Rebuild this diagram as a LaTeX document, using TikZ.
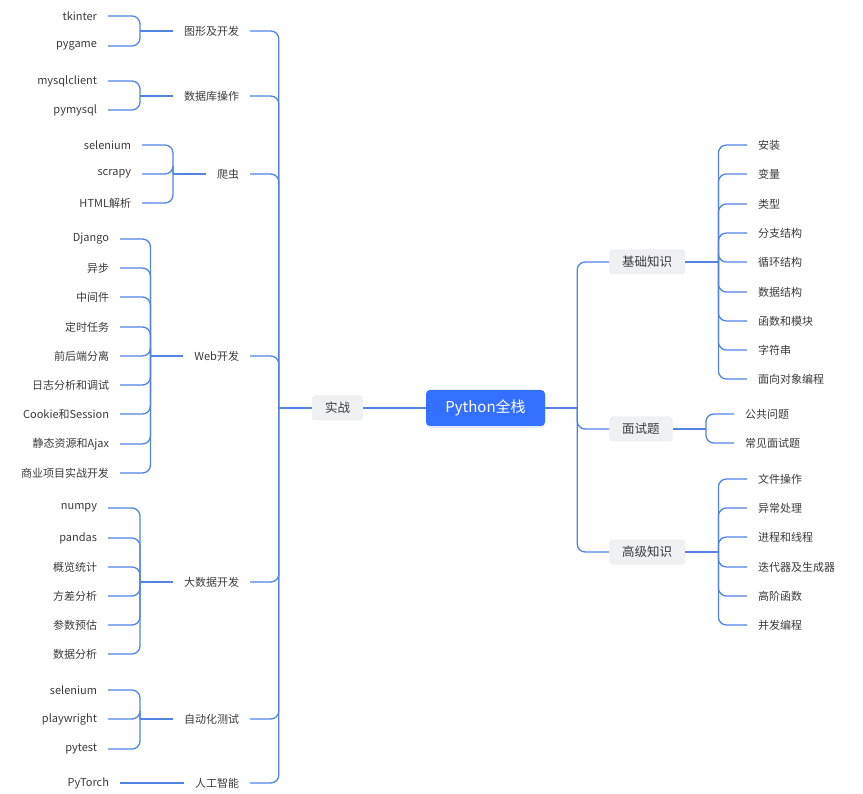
\documentclass[tikz,border=0pt]{standalone}
\usepackage{fontspec}
\setmainfont{Noto Sans CJK SC}
\usepackage{tikz}
\usetikzlibrary{positioning,shadows}
\usepackage{xcolor}
\definecolor{linea}{RGB}{82,132,228}
\definecolor{azulraiz}{RGB}{51,112,255}
\definecolor{griscaja}{RGB}{239,240,242}
\definecolor{texto}{RGB}{58,58,58}

\begin{document}
\begin{tikzpicture}[x=1pt, y=-1pt,
  every node/.style={text=texto, font=\fontsize{11}{13}\selectfont},
  hoja/.style={inner sep=0pt, outer xsep=11pt},
  tema/.style={inner sep=0pt, outer xsep=11pt},
  cajabox/.style={fill=griscaja, rounded corners=3pt, inner xsep=13pt, inner ysep=0pt,
    minimum height=25pt, font=\fontsize{12.5}{14}\selectfont},
  raizbox/.style={fill=azulraiz, rounded corners=4pt, text=white, minimum width=119pt,
    minimum height=36pt, font=\fontsize{15}{17}\selectfont,
    drop shadow={shadow xshift=0pt, shadow yshift=-2pt, opacity=0.15, fill=azulraiz}},
  rama/.style={draw=linea, line width=1.3pt, rounded corners=8pt}
]
\useasboundingbox (0,0) rectangle (863,794);

% -------- Raiz --------
\node[raizbox] (root) at (485.5,408) {Python全栈};
\node[cajabox] (shizhan) at (337.5,408) {实战};

% -------- Rama izquierda: temas --------
\node[tema, anchor=east] (g1) at (250,31) {图形及开发};
\node[tema, anchor=east] (g2) at (250,96) {数据库操作};
\node[tema, anchor=east] (g3) at (250,174) {爬虫};
\node[tema, anchor=east] (g4) at (250,356) {Web开发};
\node[tema, anchor=east] (g5) at (250,582) {大数据开发};
\node[tema, anchor=east] (g6) at (250,719) {自动化测试};
\node[tema, anchor=east] (g7) at (250,783) {人工智能};

% Hojas de 图形及开发
\node[hoja, anchor=east] (tk) at (108,16) {tkinter};
\node[hoja, anchor=east] (pg) at (108,46) {pygame};

% Hojas de 数据库操作
\node[hoja, anchor=east] (mc) at (108,81) {mysqlclient};
\node[hoja, anchor=east] (pm) at (108,110) {pymysql};

% Hojas de 爬虫
\node[hoja, anchor=east] (se) at (142,145) {selenium};
\node[hoja, anchor=east] (sc) at (142,174) {scrapy};
\node[hoja, anchor=east] (ht) at (142,203) {HTML解析};

% Hojas de Web开发
\node[hoja, anchor=east] (dj) at (120,239) {Django};
\node[hoja, anchor=east] (yb) at (120,268) {异步};
\node[hoja, anchor=east] (zj) at (120,297) {中间件};
\node[hoja, anchor=east] (ds) at (120,327) {定时任务};
\node[hoja, anchor=east] (qh) at (120,356) {前后端分离};
\node[hoja, anchor=east] (rz) at (120,385) {日志分析和调试};
\node[hoja, anchor=east] (ck) at (120,414) {Cookie和Session};
\node[hoja, anchor=east] (jt) at (120,444) {静态资源和Ajax};
\node[hoja, anchor=east] (sy) at (120,473) {商业项目实战开发};

% Hojas de 大数据开发
\node[hoja, anchor=east] (np) at (108,508) {numpy};
\node[hoja, anchor=east] (pd) at (108,538) {pandas};
\node[hoja, anchor=east] (gl) at (108,567) {概览统计};
\node[hoja, anchor=east] (fc) at (108,596) {方差分析};
\node[hoja, anchor=east] (cs) at (108,625) {参数预估};
\node[hoja, anchor=east] (sj) at (108,654) {数据分析};

% Hojas de 自动化测试
\node[hoja, anchor=east] (se2) at (108,690) {selenium};
\node[hoja, anchor=east] (pw) at (108,719) {playwright};
\node[hoja, anchor=east] (pt) at (108,749) {pytest};

% Hoja de 人工智能
\node[hoja, anchor=east] (tor) at (120,783) {PyTorch};

% -------- Rama derecha: temas --------
\node[cajabox, anchor=west] (jichu) at (609,262) {基础知识};
\node[cajabox, anchor=west] (mianshi) at (609,429) {面试题};
\node[cajabox, anchor=west] (gaoji) at (609,552) {高级知识};

% Hojas de 基础知识
\node[hoja, anchor=west] (az) at (747,145) {安装};
\node[hoja, anchor=west] (bl) at (747,174) {变量};
\node[hoja, anchor=west] (lx) at (747,204) {类型};
\node[hoja, anchor=west] (fz) at (747,233) {分支结构};
\node[hoja, anchor=west] (xh) at (747,262) {循环结构};
\node[hoja, anchor=west] (sjjg) at (747,292) {数据结构};
\node[hoja, anchor=west] (hs) at (747,321) {函数和模块};
\node[hoja, anchor=west] (zfc) at (747,350) {字符串};
\node[hoja, anchor=west] (mx) at (747,379) {面向对象编程};

% Hojas de 面试题
\node[hoja, anchor=west] (gg) at (734,414) {公共问题};
\node[hoja, anchor=west] (cj) at (734,443) {常见面试题};

% Hojas de 高级知识
\node[hoja, anchor=west] (wj) at (747,479) {文件操作};
\node[hoja, anchor=west] (yc) at (747,508) {异常处理};
\node[hoja, anchor=west] (jc) at (747,537) {进程和线程};
\node[hoja, anchor=west] (dd) at (747,567) {迭代器及生成器};
\node[hoja, anchor=west] (gj) at (747,596) {高阶函数};
\node[hoja, anchor=west] (bf) at (747,625) {并发编程};

% -------- Conectores centrales --------
\draw[rama] (shizhan.east) -- (root.west);
\coordinate (lt) at ([xshift=-33pt]shizhan.west);
\coordinate (rt) at ([xshift=32pt]root.east);
\draw[rama] (shizhan.west) -- (lt);
\draw[rama] (root.east) -- (rt);

% Tronco izquierdo
\draw[rama] (lt) |- (g1.east);
\draw[rama] (lt) |- (g2.east);
\draw[rama] (lt) |- (g3.east);
\draw[rama] (lt) |- (g4.east);
\draw[rama] (lt) |- (g5.east);
\draw[rama] (lt) |- (g6.east);
\draw[rama] (lt) |- (g7.east);

% Tronco derecho
\draw[rama] (rt) |- (jichu.west);
\draw[rama] (rt) |- (mianshi.west);
\draw[rama] (rt) |- (gaoji.west);

% -------- Llaves izquierdas --------
\coordinate (j1) at ([xshift=-33pt]g1.west);
\draw[rama] (g1.west) -- (j1);
\draw[rama] (j1) |- (tk.east);
\draw[rama] (j1) |- (pg.east);

\coordinate (j2) at ([xshift=-33pt]g2.west);
\draw[rama] (g2.west) -- (j2);
\draw[rama] (j2) |- (mc.east);
\draw[rama] (j2) |- (pm.east);

\coordinate (j3) at ([xshift=-33pt]g3.west);
\draw[rama] (g3.west) -- (j3);
\draw[rama] (j3) |- (se.east);
\draw[rama] (j3) |- (sc.east);
\draw[rama] (j3) |- (ht.east);

\coordinate (j4) at ([xshift=-33pt]g4.west);
\draw[rama] (g4.west) -- (j4);
\draw[rama] (j4) |- (dj.east);
\draw[rama] (j4) |- (yb.east);
\draw[rama] (j4) |- (zj.east);
\draw[rama] (j4) |- (ds.east);
\draw[rama] (j4) |- (qh.east);
\draw[rama] (j4) |- (rz.east);
\draw[rama] (j4) |- (ck.east);
\draw[rama] (j4) |- (jt.east);
\draw[rama] (j4) |- (sy.east);

\coordinate (j5) at ([xshift=-33pt]g5.west);
\draw[rama] (g5.west) -- (j5);
\draw[rama] (j5) |- (np.east);
\draw[rama] (j5) |- (pd.east);
\draw[rama] (j5) |- (gl.east);
\draw[rama] (j5) |- (fc.east);
\draw[rama] (j5) |- (cs.east);
\draw[rama] (j5) |- (sj.east);

\coordinate (j6) at ([xshift=-33pt]g6.west);
\draw[rama] (g6.west) -- (j6);
\draw[rama] (j6) |- (se2.east);
\draw[rama] (j6) |- (pw.east);
\draw[rama] (j6) |- (pt.east);

\draw[rama] (g7.west) -- (tor.east);

% -------- Llaves derechas --------
\coordinate (k1) at ([xshift=33pt]jichu.east);
\draw[rama] (jichu.east) -- (k1);
\draw[rama] (k1) |- (az.west);
\draw[rama] (k1) |- (bl.west);
\draw[rama] (k1) |- (lx.west);
\draw[rama] (k1) |- (fz.west);
\draw[rama] (k1) |- (xh.west);
\draw[rama] (k1) |- (sjjg.west);
\draw[rama] (k1) |- (hs.west);
\draw[rama] (k1) |- (zfc.west);
\draw[rama] (k1) |- (mx.west);

\coordinate (k2) at ([xshift=33pt]mianshi.east);
\draw[rama] (mianshi.east) -- (k2);
\draw[rama] (k2) |- (gg.west);
\draw[rama] (k2) |- (cj.west);

\coordinate (k3) at ([xshift=33pt]gaoji.east);
\draw[rama] (gaoji.east) -- (k3);
\draw[rama] (k3) |- (wj.west);
\draw[rama] (k3) |- (yc.west);
\draw[rama] (k3) |- (jc.west);
\draw[rama] (k3) |- (dd.west);
\draw[rama] (k3) |- (gj.west);
\draw[rama] (k3) |- (bf.west);

\end{tikzpicture}
\end{document}
